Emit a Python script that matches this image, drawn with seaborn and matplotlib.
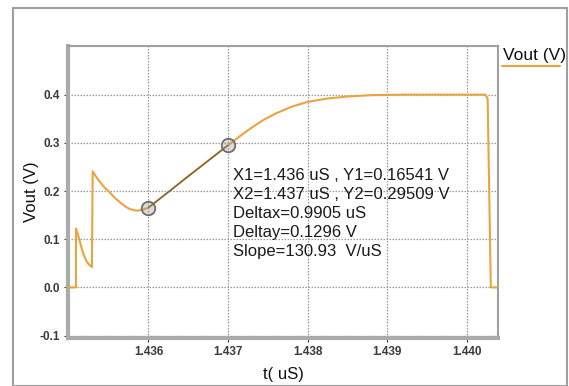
import matplotlib
matplotlib.use("Agg")
import matplotlib.pyplot as plt
from matplotlib.lines import Line2D
from matplotlib.patches import Rectangle
import seaborn as sns
import pandas as pd

# Transient response of Vout (time in microseconds, voltage in volts)
t_us = [1.43498, 1.43509, 1.43509, 1.43511, 1.43513, 1.43516, 1.43519, 1.43522,
        1.43525, 1.43529, 1.43530, 1.43535, 1.43540, 1.43545, 1.43551, 1.43557,
        1.43564, 1.43570, 1.43576, 1.43585, 1.43592, 1.43600, 1.43625, 1.43650,
        1.43675, 1.43700, 1.43715, 1.43730, 1.43745, 1.43760, 1.43780, 1.43800,
        1.43825, 1.43850, 1.43880, 1.43920, 1.44000, 1.44023, 1.44026, 1.44030,
        1.44040]
vout = [0.000, 0.000, 0.122, 0.112, 0.101, 0.082, 0.066, 0.055,
        0.048, 0.042, 0.241, 0.228, 0.217, 0.207, 0.198, 0.187,
        0.177, 0.169, 0.163, 0.159, 0.161, 0.1654, 0.198, 0.231,
        0.263, 0.2951, 0.314, 0.332, 0.348, 0.361, 0.375, 0.385,
        0.392, 0.396, 0.399, 0.400, 0.400, 0.400, 0.392, 0.000,
        0.000]

# Measurement cursors
cursor_t = [1.436, 1.437]
cursor_v = [0.16541, 0.29509]

x_ticks = [1.436, 1.437, 1.438, 1.439, 1.440]
y_ticks = [-0.1, 0.0, 0.1, 0.2, 0.3, 0.4]

readout = ["X1=1.436 uS , Y1=0.16541 V",
           "X2=1.437 uS , Y2=0.29509 V",
           "Deltax=0.9905 uS",
           "Deltay=0.1296 V",
           "Slope=130.93  V/uS"]

sns.set_theme(style="white")
plt.rcParams["font.family"] = ["Liberation Sans", "DejaVu Sans"]

ORANGE = "#E9A440"

fig = plt.figure(figsize=(5.69, 3.86), dpi=100)
ax = fig.add_axes([0.1195, 0.1244, 0.7557, 0.7565])

df = pd.DataFrame({"t": t_us, "v": vout})
sns.lineplot(data=df, x="t", y="v", sort=False, estimator=None,
             color=ORANGE, linewidth=1.5, ax=ax, zorder=3)

cur = pd.DataFrame({"t": cursor_t, "v": cursor_v})
sns.lineplot(data=cur, x="t", y="v", sort=False, estimator=None,
             color="#3a3a3a", linewidth=0.9, alpha=0.7, ax=ax, zorder=4)
sns.scatterplot(data=cur, x="t", y="v", s=95, facecolor=(0.6, 0.6, 0.6, 0.35),
                edgecolor="#6e6e6e", linewidth=1.3, ax=ax, zorder=5)

ax.set_xlim(1.43499, 1.44039)
ax.set_ylim(-0.105, 0.501)
ax.set_xticks(x_ticks)
ax.set_xticklabels([f"{v:.3f}" for v in x_ticks])
ax.set_yticks(y_ticks)
ax.set_yticklabels([f"{v:.1f}" for v in y_ticks])
ax.tick_params(axis="both", labelsize=8.5, colors="#333333", length=3,
               width=0.8, pad=3, direction="out", left=True, bottom=True)
for lab in ax.get_xticklabels() + ax.get_yticklabels():
    lab.set_fontweight("bold")
    lab.set_color("#3a3a3a")

ax.grid(True, linestyle=(0, (1.2, 1.2)), color="#9a9a9a", linewidth=0.9)

for side in ("left", "bottom"):
    ax.spines[side].set_color("#ababab")
    ax.spines[side].set_linewidth(3.0)
for side in ("top", "right"):
    ax.spines[side].set_color("#a0a0a0")
    ax.spines[side].set_linewidth(1.5)

ax.set_xlabel("t( uS)", fontsize=12, color="#111111", labelpad=6)
ax.set_ylabel("Vout (V)", fontsize=12, color="#111111", labelpad=0)

for i, line in enumerate(readout):
    ax.text(0.384, 0.557 - i * 0.0655, line, transform=ax.transAxes,
            fontsize=12, color="#1a1a1a", va="center", ha="left", zorder=6)

# Legend entry outside the plotting area
fig.text(0.884, 0.855, "Vout (V)", fontsize=12.5, color="#111111",
         ha="left", va="center")
fig.add_artist(Line2D([0.882, 0.985], [0.829, 0.829], color=ORANGE,
                      linewidth=1.5, transform=fig.transFigure))

# Outer panel frame
fig.add_artist(Rectangle((0.022, 0.0), 0.975, 0.978, transform=fig.transFigure,
                         fill=False, edgecolor="#a0a0a0", linewidth=1.5))

fig.savefig("out.png", dpi=100)
